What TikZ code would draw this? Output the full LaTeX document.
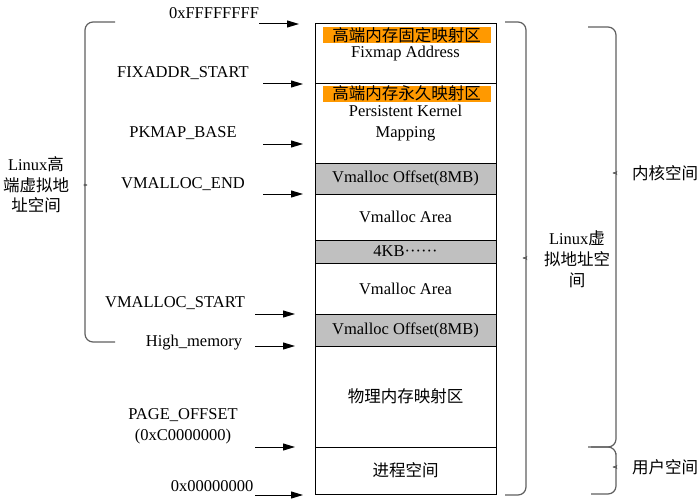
\documentclass[tikz,border=0pt]{standalone}
\usepackage{fontspec}
\setmainfont{Liberation Serif}
\newfontfamily\cjk{Noto Sans CJK SC}
\usetikzlibrary{arrows.meta}
\definecolor{cellgray}{HTML}{C0C0C0}
\definecolor{tagorange}{HTML}{FF9900}
\definecolor{bracegray}{HTML}{606060}
\begin{document}
\begin{tikzpicture}[x=1pt,y=-1pt,
  every node/.style={font=\fontsize{16.5}{20.5}\selectfont, inner sep=0pt, align=center},
  cell/.style={draw=black, line width=1pt, minimum width=181pt, anchor=north west, outer sep=0pt},
  graycell/.style={cell, fill=cellgray},
  tag/.style={fill=tagorange, minimum width=168pt, minimum height=16pt},
  addr/.style={-{Triangle[length=12pt,width=7pt]}, line width=1pt},
  brace/.style={draw=bracegray, line width=1.2pt, rounded corners=8pt}
]
\useasboundingbox (0,0) rectangle (700,500);

% memory column
\node[cell, minimum height=60pt] (c1) at (315,24) {};
\node[cell, minimum height=79pt] (c2) at (315,84) {};
\node[graycell, minimum height=31pt] (c3) at (315,163) {Vmalloc Offset(8MB)};
\node[cell, minimum height=46pt] (c4) at (315,194) {Vmalloc Area};
\node[graycell, minimum height=23pt] (c5) at (315,240) {4KB······};
\node[cell, minimum height=51pt] (c6) at (315,263) {Vmalloc Area};
\node[graycell, minimum height=32pt] (c7) at (315,314) {Vmalloc Offset(8MB)};
\node[cell, minimum height=101pt] (c8) at (315,346) {\cjk 物理内存映射区};
\node[cell, minimum height=47pt] (c9) at (315,447) {\cjk 进程空间};

\node[tag] (t1) at (406.7,34.7) {\cjk 高端内存固定映射区};
\node (fix) at (405.5,53.5) {Fixmap Address};
\node[tag] (t2) at (406.7,93.7) {\cjk 高端内存永久映射区};
\node (pkm) at (405.5,123) {Persistent Kernel\\Mapping};

% address labels
\node (l1) at (214,13) {0xFFFFFFFF};
\node (l2) at (183,73) {FIXADDR\_START};
\node (l3) at (183,133) {PKMAP\_BASE};
\node (l4) at (183,184) {VMALLOC\_END};
\node (l5) at (175,303) {VMALLOC\_START};
\node (l6) at (194,342.5) {High\_memory};
\node (l7) at (183,426.5) {PAGE\_OFFSET\\(0xC0000000)};
\node (l8) at (212,486) {0x00000000};

% arrows
\coordinate (a1s) at (259,24);  \coordinate (a1e) at (299,24);
\coordinate (a2s) at (263,84);  \coordinate (a2e) at (303,84);
\coordinate (a3s) at (263,144); \coordinate (a3e) at (303,144);
\coordinate (a4s) at (263,194); \coordinate (a4e) at (303,194);
\coordinate (a5s) at (255,314); \coordinate (a5e) at (295,314);
\coordinate (a6s) at (255,346); \coordinate (a6e) at (295,346);
\coordinate (a7s) at (255,447); \coordinate (a7e) at (295,447);
\coordinate (a8s) at (255,495); \coordinate (a8e) at (303,495);
\foreach \i in {1,...,8} \draw[addr] (a\i s) -- (a\i e);

% left brace
\draw[brace] (115,22) -- (85,22) -- (85,179) to[out=-90,in=0] (79,185) to[out=0,in=90] (85,191) -- (85,342) -- (115,342);
\node (lt) at (36,185) {Linux{\cjk 高}\\{\cjk 端虚拟地}\\{\cjk 址空间}};

% right braces
\draw[brace] (505,22) -- (526,22) -- (526,252) to[out=-90,in=180] (531,258) to[out=180,in=90] (526,264) -- (526,495) -- (505,495);
\node[font=\fontsize{16.5}{21}\selectfont] (rt) at (577,259) {Linux{\cjk 虚}\\{\cjk 拟地址空}\\{\cjk 间}};

\draw[brace] (588,27) -- (616,27) -- (616,167) to[out=-90,in=180] (621,173) to[out=180,in=90] (616,179) -- (616,447) -- (588,447);
\node[anchor=west] (ks) at (632,173) {\cjk 内核空间};

\draw[brace] (591,447) -- (616,447) -- (616,461) to[out=-90,in=180] (621,467) to[out=180,in=90] (616,473) -- (616,494) -- (591,494);
\node[anchor=west] (us) at (632,467) {\cjk 用户空间};
\end{tikzpicture}
\end{document}
